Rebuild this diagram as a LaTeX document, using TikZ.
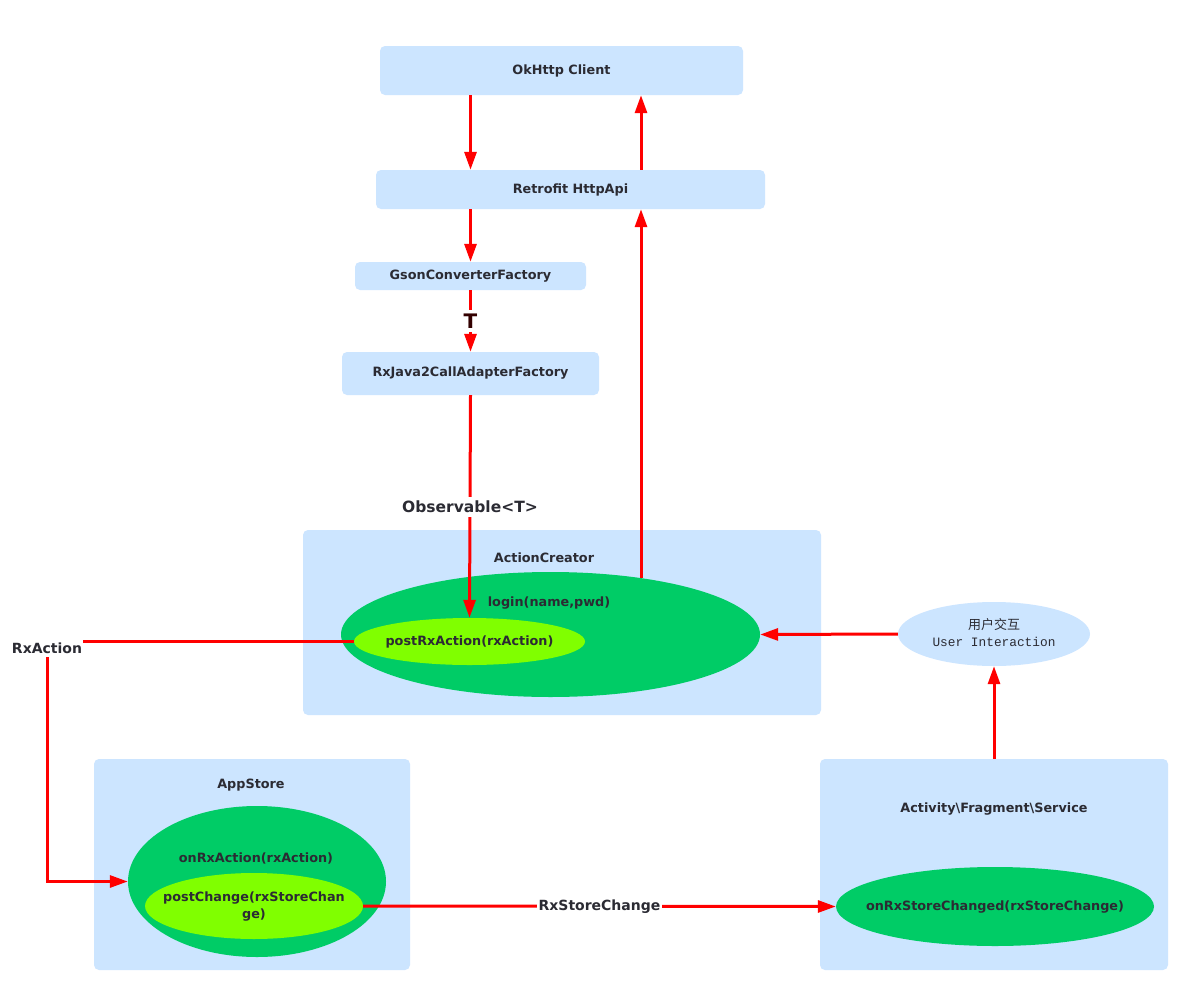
\documentclass[tikz,border=0pt]{standalone}
\usepackage{fontspec}
\setmainfont{DejaVu Sans}
\newfontfamily\cjkfont{Noto Sans CJK SC}
\newfontfamily\monofont{Liberation Mono}
\usetikzlibrary{arrows.meta,shapes.geometric}
\definecolor{lblue}{HTML}{CCE5FF}
\definecolor{dgreen}{HTML}{00CC66}
\definecolor{lgreen}{HTML}{80FF00}
\definecolor{txt}{HTML}{2B2B33}
\definecolor{tred}{HTML}{330000}
\tikzset{
  box/.style={fill=lblue, draw=none, rounded corners=5pt, font=\fontsize{12.8}{15}\selectfont\bfseries, text=txt, inner sep=0pt},
  panel/.style={fill=lblue, draw=none, rounded corners=5pt, inner sep=0pt},
  ell/.style={ellipse, draw=none, inner sep=0pt},
  intxt/.style={font=\fontsize{12.8}{15}\selectfont\bfseries, text=txt, inner sep=0pt},
  lbl/.style={fill=white, font=\fontsize{14}{16}\selectfont\bfseries, text=txt, inner sep=1.5pt},
  arr/.style={draw=red, line width=3pt, -{Triangle[length=18pt,width=12pt]}},
}
\begin{document}
\begin{tikzpicture}[x=1pt,y=-1pt]
\useasboundingbox[fill=white] (0,0) rectangle (1197,1001);

% boxes
\node[box, minimum width=363pt, minimum height=49pt] (ok) at (561.5,70.5) {OkHttp Client};
\node[box, minimum width=389pt, minimum height=39pt] (retro) at (570.5,189.5) {Retrofit HttpApi};
\node[box, minimum width=231pt, minimum height=28pt] (gson) at (470.5,276) {GsonConverterFactory};
\node[box, minimum width=257pt, minimum height=43pt] (rxj) at (470.5,373.5) {RxJava2CallAdapterFactory};

% panels
\node[panel, minimum width=518pt, minimum height=185pt] (acp) at (562,622.5) {};
\node[panel, minimum width=316pt, minimum height=211pt] (asp) at (252,864.5) {};
\node[panel, minimum width=348pt, minimum height=211pt] (act) at (994,864.5) {};

\node[intxt] (actitle) at (544,558) {ActionCreator};
\node[intxt] (astitle) at (251,785) {AppStore};
\node[intxt] (afstitle) at (994,809) {Activity\textbackslash Fragment\textbackslash Service};

% ellipses
\node[ell, fill=dgreen, minimum width=419pt, minimum height=125pt] (bigell) at (550.5,634.5) {};
\node[intxt] (login) at (549,603) {login(name,pwd)};
\node[ell, fill=lgreen, minimum width=231pt, minimum height=47pt] (post) at (469.5,641.5) {};
\node[intxt] (posttxt) at (469.5,641.5) {postRxAction(rxAction)};

\node[ell, fill=dgreen, minimum width=258pt, minimum height=151pt] (storeell) at (257,881.5) {};
\node[intxt] (onrx) at (256,858) {onRxAction(rxAction)};
\node[ell, fill=lgreen, minimum width=218pt, minimum height=66pt] (pc) at (254,906) {};
\node[intxt, align=center, font=\fontsize{12.8}{16.5}\selectfont\bfseries] (pctxt) at (254,906.5) {postChange(rxStoreChan\\ge)};

\node[ell, fill=dgreen, minimum width=318pt, minimum height=79pt] (osc) at (995,906.5) {};
\node[intxt] (osctxt) at (995,907) {onRxStoreChanged(rxStoreChange)};

\node[ellipse, fill=lblue, draw=none, minimum width=192pt, minimum height=64pt, inner sep=0pt] (ui) at (994,634) {};
\node[font=\cjkfont\fontsize{13}{15}\selectfont, text=txt, inner sep=0pt] (uicn) at (994,625) {用户交互};
\node[font=\monofont\fontsize{12.8}{15}\selectfont, text=txt, inner sep=0pt] (uien) at (994,641.5) {User Interaction};

% connectors
\draw[arr] (ok.south -| gson.north) -- (retro.north -| gson.north);
\coordinate (upstart) at (641,578);
\draw[arr] (retro.north -| upstart) -- (ok.south -| upstart);
\draw[arr] (retro.south -| gson.north) -- (gson.north);
\draw[arr] (gson.south) -- node[fill=white, inner xsep=1pt, inner ysep=4pt, text=tred, font=\fontsize{20}{22}\selectfont\bfseries] (tlbl) {T} (rxj.north);
\draw[arr] (rxj.south) -- node[lbl, font=\fontsize{15.5}{17}\selectfont\bfseries, inner ysep=4pt] (obs) {Observable<T>} (post.north);
\draw[arr] (upstart) -- (upstart |- retro.south);
\draw[arr] (ui.west) -- (bigell.east);
\draw[arr] (act.north -| ui.south) -- (ui.south);

\coordinate (rxc) at (47,641.5);
\draw[arr] (post.west) -- (rxc) -- (rxc |- storeell.west) -- (storeell.west);
\node[lbl, inner xsep=1pt, inner ysep=4pt] (rxa) at (47,648) {RxAction};

\draw[arr] (pc.east) -- node[lbl] (rsc) {RxStoreChange} (osc.west);
\end{tikzpicture}
\end{document}
